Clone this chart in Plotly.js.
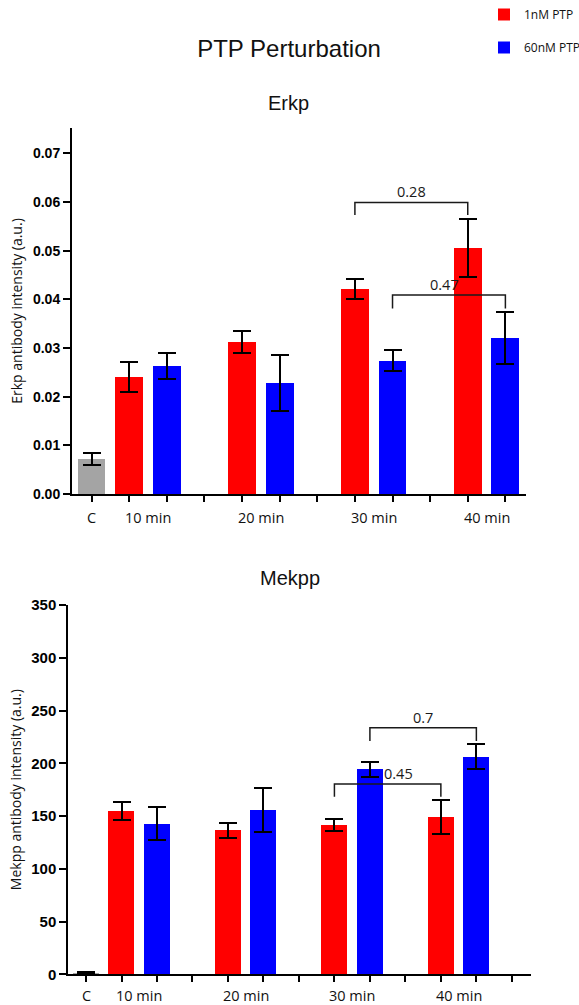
<!DOCTYPE html>
<html>
<head>
<meta charset="utf-8">
<script src="https://cdn.plot.ly/plotly-3.0.1.min.js"></script>
<style>
html,body{margin:0;padding:0;background:#ffffff;}
#chart{width:579px;height:1005px;}
</style>
</head>
<body>
<div id="chart"></div>
<script>
// ---------------- data ----------------
const controlLabel = 'C';
const timepoints = ['10 min', '20 min', '30 min', '40 min'];
const seriesNames = ['1nM PTP', '60nM PTP'];

const erkpControl = [0.0072];
const erkpControlErr = [0.0012];
const erkp1nM = [0.0241, 0.0312, 0.0421, 0.0506];
const erkp1nMErr = [0.0031, 0.0022, 0.0020, 0.0060];
const erkp60nM = [0.0263, 0.0228, 0.0274, 0.0321];
const erkp60nMErr = [0.0027, 0.0058, 0.0022, 0.0053];

const mekppControl = [1.5];
const mekppControlErr = [0.6];
const mekpp1nM = [154.5, 136.4, 141.5, 148.8];
const mekpp1nMErr = [8.5, 7.0, 6.0, 16.0];
const mekpp60nM = [142.7, 155.7, 194.3, 206.2];
const mekpp60nMErr = [15.5, 20.7, 7.0, 12.0];

// significance brackets: label, series index, time index from -> to, bracket level, leg end
const erkpBrackets = [
  {label: '0.28', series: 0, from: 2, to: 3, level: 0.0599, leg: 0.0573},
  {label: '0.47', series: 1, from: 2, to: 3, level: 0.0409, leg: 0.0381}
];
const mekppBrackets = [
  {label: '0.7', series: 1, from: 2, to: 3, level: 233.7, leg: 221.0},
  {label: '0.45', series: 0, from: 2, to: 3, level: 180.3, leg: 168.3}
];

// ---------------- helpers ----------------
const W = 579, H = 1005;
const px = v => v / W;
const py = v => 1 - v / H;
const slot = (t, s) => t * 3 + 1 + s;          // bar slot on the category axis
const RED = '#ff0000', BLUE = '#0000ff', GREY = '#a4a4a4';
const tickFont = {family: 'Liberation Sans, Arial, sans-serif', size: 14, color: '#000', weight: 'bold'};
const textFamily = 'Open Sans, Noto Sans, sans-serif';

function barTrace(name, xs, ys, errs, color, xa, ya, showlegend, width) {
  return {
    type: 'bar', name: name, x: xs, y: ys, width: width,
    xaxis: xa, yaxis: ya, showlegend: showlegend, legendgroup: name + xa,
    marker: {color: color, line: {width: 0}},
    error_y: {type: 'data', array: errs, visible: true, color: '#000', thickness: 2, width: 9},
    hoverinfo: 'x+y'
  };
}

const traces = [
  barTrace(controlLabel, [0], erkpControl, erkpControlErr, GREY, 'x', 'y', false, 0.74),
  barTrace(seriesNames[0], timepoints.map((_, i) => slot(i, 0)), erkp1nM, erkp1nMErr, RED, 'x', 'y', true, 0.74),
  barTrace(seriesNames[1], timepoints.map((_, i) => slot(i, 1)), erkp60nM, erkp60nMErr, BLUE, 'x', 'y', true, 0.74),
  barTrace(controlLabel, [0], mekppControl, mekppControlErr, GREY, 'x2', 'y2', false, 0.73),
  barTrace(seriesNames[0], timepoints.map((_, i) => slot(i, 0)), mekpp1nM, mekpp1nMErr, RED, 'x2', 'y2', false, 0.73),
  barTrace(seriesNames[1], timepoints.map((_, i) => slot(i, 1)), mekpp60nM, mekpp60nMErr, BLUE, 'x2', 'y2', false, 0.73)
];

const shapes = [];
const annotations = [];

function addBrackets(list, xr, yr, shifts) {
  list.forEach((b, k) => {
    const x0 = slot(b.from, b.series), x1 = slot(b.to, b.series);
    shapes.push({
      type: 'path', xref: xr, yref: yr,
      path: `M ${x0},${b.leg} L ${x0},${b.level} L ${x1},${b.level} L ${x1},${b.leg}`,
      line: {color: '#1a1a1a', width: 1.5}
    });
    annotations.push({
      text: b.label, xref: xr, yref: yr, x: (x0 + x1) / 2, y: b.level,
      xanchor: 'center', yanchor: 'bottom', showarrow: false, yshift: -1, xshift: shifts[k] || 0,
      font: {family: textFamily, size: 14.5, color: '#1a1a1a'}
    });
  });
}
addBrackets(erkpBrackets, 'x', 'y', [0, -4]);
addBrackets(mekppBrackets, 'x2', 'y2', [0, 11]);

function addCategoryLabels(xr, yr, yshift) {
  const labels = [{t: controlLabel, x: 0}].concat(timepoints.map((t, i) => ({t: t, x: slot(i, 0) + 0.5})));
  labels.forEach(l => annotations.push({
    text: l.t, xref: xr, yref: yr, x: l.x, y: 0, xanchor: 'center', yanchor: 'middle',
    yshift: yshift, showarrow: false, font: {family: textFamily, size: 14.5, color: '#111'}
  }));
}
addCategoryLabels('x', 'y', -23);
addCategoryLabels('x2', 'y2', -21);

annotations.push({text: 'Erkp', xref: 'paper', yref: 'paper', x: px(288), y: py(103),
  xanchor: 'center', yanchor: 'middle', showarrow: false,
  font: {family: 'Liberation Sans, Arial, sans-serif', size: 20, color: '#111'}});
annotations.push({text: 'Mekpp', xref: 'paper', yref: 'paper', x: px(290), y: py(578),
  xanchor: 'center', yanchor: 'middle', showarrow: false,
  font: {family: 'Liberation Sans, Arial, sans-serif', size: 20, color: '#111'}});

const xCommon = {
  showticklabels: false, ticks: 'outside', ticklen: 6, tickwidth: 2, tickcolor: '#000',
  showline: true, linewidth: 2, linecolor: '#000', showgrid: false, zeroline: false, fixedrange: true
};
const yCommon = {
  ticks: 'outside', ticklen: 7, tickwidth: 2, tickcolor: '#000', tickfont: tickFont,
  showline: true, linewidth: 2, linecolor: '#000', showgrid: false, zeroline: false, fixedrange: true
};

const layout = {
  width: W, height: H,
  margin: {l: 0, r: 0, t: 0, b: 0, autoexpand: false},
  paper_bgcolor: '#fff', plot_bgcolor: '#fff',
  bargap: 0,
  title: {text: 'PTP Perturbation', x: px(289), xanchor: 'center', xref: 'paper',
          y: py(49), yanchor: 'middle', yref: 'paper',
          font: {family: 'Liberation Sans, Arial, sans-serif', size: 24, color: '#111'}},
  xaxis: Object.assign({}, xCommon, {domain: [px(72), px(525.7)], range: [-0.52, 11.54], anchor: 'y',
    tickmode: 'array', tickvals: Array.from({length: 12}, (_, i) => i)}),
  yaxis: Object.assign({}, yCommon, {domain: [py(494), py(128)], range: [0, 0.0752], anchor: 'x',
    tickmode: 'linear', tick0: 0, dtick: 0.01, tickformat: '.2f',
    title: {text: 'Erkp antibody intensity (a.u.)', standoff: 7,
            font: {family: textFamily, size: 14, color: '#111'}}}),
  xaxis2: Object.assign({}, xCommon, {domain: [px(68.3), px(531)], range: [-0.5, 12.54], anchor: 'y2',
    tickmode: 'array', tickvals: Array.from({length: 13}, (_, i) => i)}),
  yaxis2: Object.assign({}, yCommon, {domain: [py(974.3), py(605)], range: [0, 350], anchor: 'x2',
    tickmode: 'linear', tick0: 0, dtick: 50,
    tickfont: Object.assign({}, tickFont, {size: 15}),
    title: {text: 'Mekpp antibody intensity (a.u.)', standoff: 6,
            font: {family: textFamily, size: 14, color: '#111'}}}),
  showlegend: true,
  legend: {x: px(484), xanchor: 'left', y: 1, yanchor: 'top', orientation: 'v',
           traceorder: 'grouped', tracegroupgap: 14, bgcolor: 'rgba(0,0,0,0)',
           font: {family: textFamily, size: 12, color: '#111'}},
  shapes: shapes,
  annotations: annotations
};

Plotly.newPlot('chart', traces, layout, {displayModeBar: false});
</script>
</body>
</html>
